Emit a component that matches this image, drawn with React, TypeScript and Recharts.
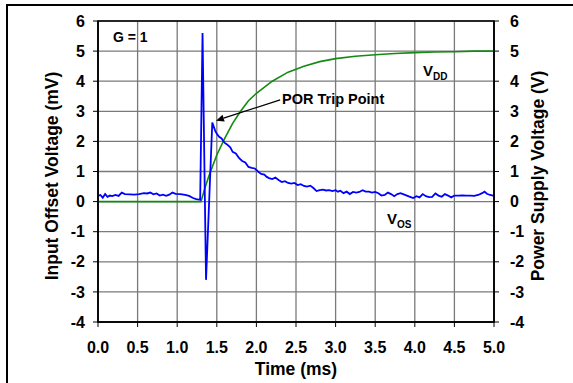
import React from 'react'
import {
  ComposedChart,
  Line,
  XAxis,
  YAxis,
  CartesianGrid,
  ReferenceArea,
  ReferenceLine,
} from 'recharts'

// Input offset voltage (mV) vs time (ms)
const vosTime = [
  0.0, 0.03, 0.06, 0.09, 0.12, 0.15, 0.18, 0.22, 0.26, 0.3, 0.34, 0.4, 0.46, 0.52, 0.58, 0.62, 0.66, 0.7, 0.74,
  0.78, 0.82, 0.86, 0.9, 0.94, 0.98, 1.04, 1.1, 1.15, 1.2, 1.24, 1.29, 1.32, 1.364, 1.443, 1.46, 1.48, 1.5, 1.53,
  1.56, 1.6, 1.63, 1.67, 1.7, 1.74, 1.78, 1.82, 1.86, 1.9, 1.94, 1.98, 2.02, 2.06, 2.1, 2.13, 2.16, 2.2, 2.24,
  2.28, 2.32, 2.36, 2.4, 2.44, 2.48, 2.52, 2.56, 2.6, 2.64, 2.68, 2.72, 2.76, 2.8, 2.84, 2.88, 2.92, 2.96, 3.0,
  3.03, 3.06, 3.1, 3.14, 3.18, 3.22, 3.26, 3.3, 3.34, 3.38, 3.42, 3.46, 3.5, 3.54, 3.58, 3.62, 3.66, 3.7, 3.74,
  3.78, 3.82, 3.86, 3.9, 3.94, 3.98, 4.02, 4.06, 4.1, 4.14, 4.18, 4.22, 4.26, 4.3, 4.34, 4.38, 4.42, 4.46, 4.5,
  4.55, 4.6, 4.65, 4.7, 4.75, 4.8, 4.85, 4.88, 4.91, 4.95, 5.0,
]
const vosValue = [
  0.19, 0.22, 0.13, 0.25, 0.16, 0.2, 0.18, 0.22, 0.19, 0.3, 0.25, 0.24, 0.23, 0.25, 0.28, 0.27, 0.3, 0.24, 0.27,
  0.2, 0.23, 0.19, 0.23, 0.3, 0.26, 0.25, 0.22, 0.19, 0.12, 0.08, 0.06, 5.6, -2.6, 2.63, 2.5, 2.35, 2.25, 2.15,
  2.1, 1.95, 1.9, 1.8, 1.65, 1.6, 1.45, 1.35, 1.3, 1.15, 1.12, 1.1, 1.0, 0.92, 0.9, 0.82, 0.78, 0.75, 0.8,
  0.72, 0.65, 0.68, 0.62, 0.6, 0.62, 0.55, 0.58, 0.52, 0.5, 0.53, 0.45, 0.35, 0.38, 0.4, 0.37, 0.38, 0.35, 0.38,
  0.33, 0.36, 0.28, 0.33, 0.25, 0.32, 0.3, 0.32, 0.38, 0.33, 0.33, 0.3, 0.32, 0.28, 0.2, 0.22, 0.3, 0.25, 0.18,
  0.25, 0.28, 0.24, 0.2, 0.16, 0.12, 0.18, 0.14, 0.25, 0.18, 0.15, 0.16, 0.27, 0.2, 0.16, 0.25, 0.2, 0.14, 0.2,
  0.2, 0.21, 0.2, 0.2, 0.19, 0.22, 0.28, 0.33, 0.26, 0.22, 0.19,
]

// Power supply voltage (V) vs time (ms)
const vddTime = [
  0, 1.3, 1.35, 1.4, 1.45, 1.5, 1.6, 1.7, 1.8, 1.9, 2.0, 2.2, 2.4, 2.6, 2.8, 3.0, 3.25, 3.5, 3.75, 4.0, 4.25, 4.5,
  4.75, 5.0,
]
const vddValue = [
  0, 0, 0.45, 0.85, 1.2, 1.55, 2.1, 2.6, 3.0, 3.35, 3.6, 4.0, 4.3, 4.5, 4.65, 4.75, 4.83, 4.88, 4.92, 4.95, 4.97,
  4.98, 5.0, 5.0,
]

const xTicks = [0, 0.5, 1, 1.5, 2, 2.5, 3, 3.5, 4, 4.5, 5]
const yTicks = [-4, -3, -2, -1, 0, 1, 2, 3, 4, 5, 6]

const vosData = vosTime.map((t, i) => ({ t, v: vosValue[i] }))
const vddData = vddTime.map((t, i) => ({ t, v: vddValue[i] }))

const FONT = '"Liberation Sans", Arial, sans-serif'
const TICK = { fontSize: 16, fontWeight: 700, fill: '#000', fontFamily: FONT }
const GRID = '#7a7a7a'

const yTitle = (text: string, dx: number) => (props: any) => {
  const { viewBox } = props
  const x = viewBox.x + dx
  const y = 176
  return (
    <text
      x={x}
      y={y}
      transform={`rotate(-90 ${x} ${y})`}
      textAnchor="middle"
      dominantBaseline="central"
      fontFamily={FONT}
      fontWeight={700}
      fontSize={17.5}
      fill="#000"
    >
      {text}
    </text>
  )
}

const xTitle = (props: any) => {
  const { viewBox } = props
  return (
    <text
      x={viewBox.x + viewBox.width / 2}
      y={369}
      textAnchor="middle"
      dominantBaseline="central"
      fontFamily={FONT}
      fontWeight={700}
      fontSize={17.5}
      fill="#000"
    >
      Time (ms)
    </text>
  )
}

const arrowShape = (p: any) => {
  const { x1, y1, x2, y2 } = p
  const a = Math.atan2(y2 - y1, x2 - x1)
  const len = 8
  const w = 3.5
  const bx = x2 - Math.cos(a) * len
  const by = y2 - Math.sin(a) * len
  const pts = `${x2},${y2} ${bx - Math.sin(a) * w},${by + Math.cos(a) * w} ${bx + Math.sin(a) * w},${by - Math.cos(a) * w}`
  return (
    <g>
      <line x1={x1} y1={y1} x2={bx} y2={by} stroke="#000" strokeWidth={1.3} />
      <polygon points={pts} fill="#000" />
    </g>
  )
}

const txt: React.CSSProperties = {
  position: 'absolute',
  fontFamily: FONT,
  fontWeight: 700,
  color: '#000',
  lineHeight: 1,
  whiteSpace: 'nowrap',
}

export default function App() {
  return (
    <div style={{ position: 'absolute', left: 0, top: 0, width: 573, height: 383, background: '#fff' }}>
      <div
        style={{
          position: 'absolute',
          left: 6,
          top: 4,
          width: 600,
          height: 400,
          borderLeft: '2.5px solid #000',
          borderTop: '2.5px solid #000',
        }}
      />
      <ComposedChart width={573} height={383} margin={{ top: 21, right: 19, bottom: 16, left: 38 }}>
        <CartesianGrid stroke={GRID} strokeWidth={1.3} yAxisId="left" />
        <XAxis
          type="number"
          dataKey="t"
          domain={[0, 5]}
          ticks={xTicks}
          interval={0}
          tickFormatter={(v: number) => v.toFixed(1)}
          tick={TICK}
          tickSize={5}
          tickMargin={15}
          height={45}
          axisLine={{ stroke: '#000', strokeWidth: 1.5 }}
          tickLine={{ stroke: '#000' }}
          label={{ content: xTitle }}
        />
        <YAxis
          yAxisId="left"
          type="number"
          domain={[-4, 6]}
          ticks={yTicks}
          interval={0}
          tick={TICK}
          tickSize={5}
          tickMargin={8}
          width={60}
          axisLine={{ stroke: '#000', strokeWidth: 1.5 }}
          tickLine={{ stroke: '#000' }}
          label={{ content: yTitle('Input Offset Voltage (mV)', 14) }}
        />
        <YAxis
          yAxisId="right"
          orientation="right"
          type="number"
          domain={[-4, 6]}
          ticks={yTicks}
          interval={0}
          tick={{ ...TICK, textAnchor: 'start' }}
          tickSize={5}
          tickMargin={11}
          width={60}
          axisLine={{ stroke: '#000', strokeWidth: 1.5 }}
          tickLine={{ stroke: '#000' }}
          label={{ content: yTitle('Power Supply Voltage (V)', 44) }}
        />
        <Line
          yAxisId="right"
          data={vddData}
          dataKey="v"
          type="linear"
          stroke="#138a13"
          strokeWidth={1.6}
          dot={false}
          isAnimationActive={false}
        />
        <Line
          yAxisId="left"
          data={vosData}
          dataKey="v"
          type="linear"
          stroke="#0000ff"
          strokeWidth={1.8}
          dot={false}
          isAnimationActive={false}
        />
        <ReferenceLine
          yAxisId="left"
          segment={[
            { x: 2.3, y: 3.38 },
            { x: 1.49, y: 2.69 },
          ]}
          shape={arrowShape}
        />
        <ReferenceArea
          yAxisId="left"
          x1={0}
          x2={5}
          y1={-4}
          y2={6}
          fill="none"
          fillOpacity={0}
          stroke="#000"
          strokeWidth={1.5}
        />
      </ComposedChart>
      <div style={{ ...txt, left: 113, top: 30, fontSize: 14 }}>G = 1</div>
      <div style={{ ...txt, left: 282, top: 92, fontSize: 14.5 }}>POR Trip Point</div>
      <div style={{ ...txt, left: 423, top: 63, fontSize: 15 }}>
        V<span style={{ fontSize: 10, position: 'relative', top: 4 }}>DD</span>
      </div>
      <div style={{ ...txt, left: 387, top: 211, fontSize: 15 }}>
        V<span style={{ fontSize: 10, position: 'relative', top: 4 }}>OS</span>
      </div>
    </div>
  )
}
